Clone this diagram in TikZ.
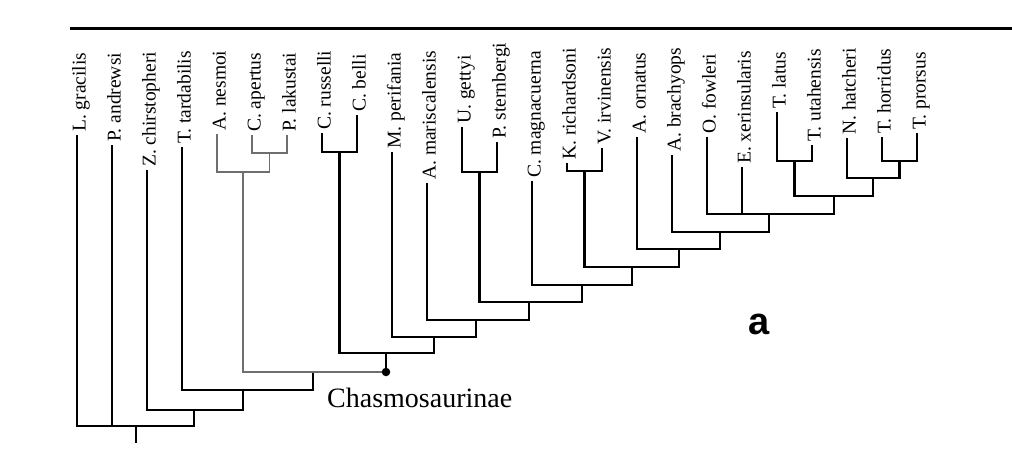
\documentclass[tikz,border=0pt]{standalone}
\usepackage{fontspec}
\setmainfont{Liberation Serif}
\newfontfamily\sansfam{Liberation Sans}
\begin{document}
\begin{tikzpicture}[x=1pt,y=-1pt,
  lbl/.style={rotate=90, anchor=base west, inner sep=0pt, font=\fontsize{19.5}{19.5}\selectfont},
  thinline/.style={line width=1.3pt, black},
  grayline/.style={line width=1.4pt, color={rgb,255:red,110;green,110;blue,110}},
  thickline/.style={line width=2.8pt, black, line join=miter},
  midline/.style={line width=1.8pt, black}]
\useasboundingbox (0,0) rectangle (1012,463);
% top rule
\coordinate (barL) at (70,28);
\coordinate (barR) at (1012,28);
\draw[line width=3pt] (barL) -- (barR);
% tips and labels
\foreach \i/\top/\name in {1/135/L. gracilis,2/145/P. andrewsi,3/170/Z. chirstopheri,4/147/T. tardabilis,
  5/134/A. nesmoi,6/135/C. apertus,7/135/P. lakustai,8/133/C. russelli,9/115/C. belli,
  10/152/M. perifania,11/183/A. mariscalensis,12/127/U. gettyi,13/142/P. sternbergi,
  14/181/C. magnacuerna,15/163/K. richardsoni,16/148/V. irvinensis,17/137/A. ornatus,
  18/155/A. brachyops,19/137/O. fowleri,20/167/E. xerinsularis,21/112/T. latus,
  22/145/T. utahensis,23/138/N. hatcheri,24/137/T. horridus,25/133/T. prorsus}{
  \coordinate (t\i) at ({77+35*(\i-1)},\top);
  \node[lbl] (l\i) at ([xshift=8.7pt,yshift=3pt]t\i) {\name};
}
% internal nodes
\coordinate (apl) at (269.5,153);
\coordinate (nes) at (243,172);
\coordinate (rb) at (339.5,152);
\coordinate (gs) at (479.5,172);
\coordinate (kv) at (584.5,171);
\coordinate (lu) at (794.5,161);
\coordinate (hp) at (899.5,161);
\coordinate (hat) at (873,178);
\coordinate (tri) at (834,196);
\coordinate (oet) at (769,214);
\coordinate (abr) at (720,232);
\coordinate (aor) at (679,249);
\coordinate (kvn) at (632,267);
\coordinate (cmg) at (582,285);
\coordinate (gsn) at (529,302);
\coordinate (amr) at (476,320);
\coordinate (mpf) at (434,337);
\coordinate (crown) at (386,353);
\coordinate (chas) at (313,372);
\coordinate (ttd) at (243,390);
\coordinate (zc) at (194,410);
\coordinate (root) at (136,426);
\coordinate (rootend) at (136,443);
% outer (thin black)
\draw[thinline] (root) -| (t1);
\draw[thinline] (root) -| (t2);
\draw[thinline] (root) -| (zc);
\draw[thinline] (root) -- (rootend);
\draw[thinline] (zc) -| (t3);
\draw[thinline] (zc) -| (ttd);
\draw[thinline] (ttd) -| (t4);
\draw[thinline] (ttd) -| (chas);
% gray clade
\draw[grayline] (chas) -| (nes);
\draw[grayline] (chas) -- (chas -| crown);
\draw[grayline] (nes) -| (t5);
\draw[grayline] (nes) -| (apl);
\draw[grayline] (apl) -| (t6);
\draw[grayline] (apl) -| (t7);
% crown stem and dot
\draw[midline] (chas -| crown) -- (crown);
\node[circle, fill=black, inner sep=0pt, minimum size=8.5pt] (dot) at (chas -| crown) {};
% crown (thick)
\draw[thickline] (crown) -| (rb);
\draw[thickline] (crown) -| (mpf);
\draw[thickline] (rb) -| (t8);
\draw[thickline] (rb) -| (t9);
\draw[thickline] (mpf) -| (t10);
\draw[thickline] (mpf) -| (amr);
\draw[thickline] (amr) -| (t11);
\draw[thickline] (amr) -| (gsn);
\draw[thickline] (gsn) -| (gs);
\draw[thickline] (gsn) -| (cmg);
\draw[thickline] (gs) -| (t12);
\draw[thickline] (gs) -| (t13);
\draw[thickline] (cmg) -| (t14);
\draw[thickline] (cmg) -| (kvn);
\draw[thickline] (kvn) -| (kv);
\draw[thickline] (kvn) -| (aor);
\draw[thickline] (kv) -| (t15);
\draw[thickline] (kv) -| (t16);
\draw[thickline] (aor) -| (t17);
\draw[thickline] (aor) -| (abr);
\draw[thickline] (abr) -| (t18);
\draw[thickline] (abr) -| (oet);
\draw[thickline] (oet) -| (t19);
\draw[thickline] (oet) -| (t20);
\draw[thickline] (oet) -| (tri);
\draw[thickline] (tri) -| (lu);
\draw[thickline] (tri) -| (hat);
\draw[thickline] (lu) -| (t21);
\draw[thickline] (lu) -| (t22);
\draw[thickline] (hat) -| (t23);
\draw[thickline] (hat) -| (hp);
\draw[thickline] (hp) -| (t24);
\draw[thickline] (hp) -| (t25);
% texts
\node[anchor=base west, inner sep=0pt, font=\fontsize{28}{28}\selectfont] (chasl) at (327,407) {Chasmosaurinae};
\node[anchor=base, inner sep=0pt, font=\sansfam\bfseries\fontsize{38}{38}\selectfont] (alab) at (759,334) {a};
\end{tikzpicture}
\end{document}
